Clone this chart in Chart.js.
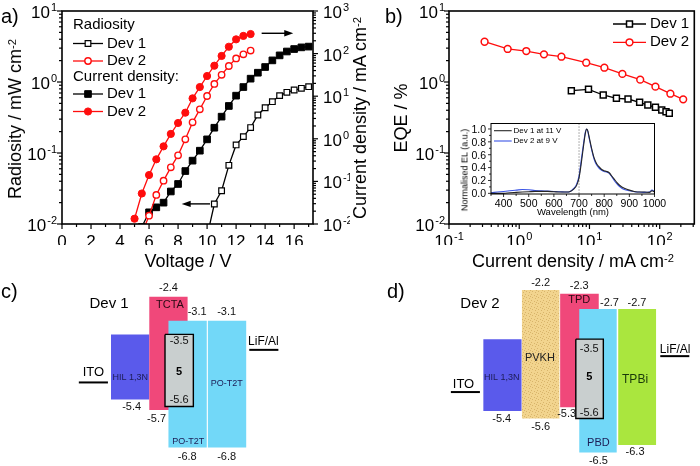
<!DOCTYPE html>
<html>
<head>
<meta charset="utf-8">
<script src="https://cdn.jsdelivr.net/npm/chart.js@4.4.1/dist/chart.umd.min.js"></script>
<style>
  html, body { margin:0; padding:0; background:#fff; }
  #fig { position:relative; width:700px; height:466px; overflow:hidden; background:#fff;
         font-family:"Liberation Sans", Arial, Helvetica, sans-serif; color:#000; }
  #fig canvas { position:absolute; }
  .lbl { position:absolute; white-space:nowrap; margin:0; padding:0; }
  .lbl sup { font-size:0.62em; position:relative; top:-0.45em; vertical-align:baseline; line-height:0; }
</style>
</head>
<body>
<div id="fig">
  <canvas id="cA" width="350" height="245" style="left:0;top:0"></canvas>
  <canvas id="cB" width="350" height="245" style="left:350px;top:0"></canvas>
  <canvas id="cIn" width="225" height="102" style="left:455px;top:118px"></canvas>
  <canvas id="cC" width="350" height="221" style="left:0;top:245px"></canvas>
  <canvas id="cD" width="350" height="221" style="left:350px;top:245px"></canvas>
</div>
<script>
// ---------------- DATA ----------------
// Panel a: radiosity (mW cm-2, left axis) and current density (mA cm-2, right axis) vs voltage (V)
const radVoltDev1 = [10, 10.5, 11, 11.5, 12, 12.5, 13, 13.5, 14, 14.5, 15, 15.5, 16, 16.5, 17];
const radiosityDev1 = [0.0067, 0.0191, 0.0294, 0.067, 0.130, 0.170, 0.228, 0.343, 0.434, 0.528, 0.643, 0.715, 0.771, 0.815, 0.859];
const radVoltDev2 = [5.5, 6, 6.5, 7, 7.5, 8, 8.5, 9, 9.5, 10, 10.5, 11, 11.5, 12, 12.5, 13];
const radiosityDev2 = [0.0073, 0.0131, 0.0257, 0.0408, 0.0628, 0.0927, 0.156, 0.270, 0.412, 0.635, 0.94, 1.26, 1.68, 2.15, 2.45, 2.77];
const curVoltDev1 = [5.5, 6, 6.5, 7, 7.5, 8, 8.5, 9, 9.5, 10, 10.5, 11, 11.5, 12, 12.5, 13, 13.5, 14, 14.5, 15, 15.5, 16, 16.5, 17];
const currentDev1 = [0.0085, 0.0188, 0.0246, 0.0317, 0.058, 0.087, 0.175, 0.307, 0.526, 0.97, 1.82, 3.31, 5.9, 10.3, 16.4, 25.8, 35.6, 48.4, 69.3, 90.8, 112, 128, 140, 146];
const curVoltDev2 = [5, 5.5, 6, 6.5, 7, 7.5, 8, 8.5, 9, 9.5, 10, 10.5, 11, 11.5, 12, 12.5, 13];
const currentDev2 = [0.0133, 0.052, 0.141, 0.33, 0.665, 1.30, 2.35, 4.1, 8.9, 16.4, 29.8, 52, 88, 145, 216, 260, 288];

// Panel b: EQE (%) vs current density (mA cm-2)
const eqeJDev1 = [5.52, 9.69, 15.7, 24.2, 35.4, 51.8, 67.8, 87, 107, 123, 137];
const eqeDev1 = [0.754, 0.789, 0.656, 0.589, 0.576, 0.518, 0.474, 0.44, 0.404, 0.382, 0.362];
const eqeJDev2 = [0.321, 0.684, 1.26, 2.25, 3.99, 8.99, 16.3, 29.4, 52.8, 87, 142, 216];
const eqeDev2 = [3.69, 2.92, 2.73, 2.45, 2.27, 1.87, 1.59, 1.30, 1.08, 0.86, 0.684, 0.57];

// Panel b inset: normalised EL spectra
const wavelength = [350, 375, 400, 425, 450, 475, 500, 525, 550, 575, 600, 625, 650, 665, 680, 690, 700, 710, 720, 725, 730, 735, 740, 750, 760, 770, 780, 790, 800, 810, 820, 830, 840, 850, 860, 870, 880, 900, 920, 940, 960, 980, 990, 1000];
const elDev1 = [0.00, 0.00, 0.00, 0.01, 0.015, 0.02, 0.025, 0.03, 0.03, 0.03, 0.025, 0.02, 0.02, 0.03, 0.07, 0.12, 0.24, 0.5, 0.8, 0.93, 1.0, 0.97, 0.88, 0.7, 0.55, 0.46, 0.41, 0.37, 0.35, 0.34, 0.32, 0.27, 0.22, 0.17, 0.13, 0.1, 0.08, 0.05, 0.03, 0.02, 0.02, 0.015, 0.04, 0.02];
const elDev2 = [0.01, 0.02, 0.03, 0.04, 0.05, 0.06, 0.055, 0.045, 0.04, 0.035, 0.03, 0.025, 0.02, 0.03, 0.08, 0.14, 0.27, 0.55, 0.83, 0.95, 1.0, 0.96, 0.86, 0.68, 0.53, 0.44, 0.39, 0.36, 0.34, 0.33, 0.31, 0.26, 0.2, 0.15, 0.11, 0.08, 0.06, 0.04, 0.025, 0.02, 0.015, 0.02, 0.05, 0.03];

// Tick values / labels
const voltTicks = [0, 2, 4, 6, 8, 10, 12, 14, 16];
const voltTickLabels = ['0', '2', '4', '6', '8', '10', '12', '14', '16'];
const voltMinor = [1, 3, 5, 7, 9, 11, 13, 15, 17];
const radTicks = [0.01, 0.1, 1, 10];
const radTickLabels = ['10^-2', '10^-1', '10^0', '10^1'];
const curTicks = [0.01, 0.1, 1, 10, 100, 1000];
const curTickLabels = ['10^-2', '10^-1', '10^0', '10^1', '10^2', '10^3'];
const jTicks = [0.1, 1, 10, 100];
const jTickLabels = ['10^-1', '10^0', '10^1', '10^2'];
const eqeTicks = [0.01, 0.1, 1, 10];
const eqeTickLabels = ['10^-2', '10^-1', '10^0', '10^1'];
const wlTicks = [400, 500, 600, 700, 800, 900, 1000];
const wlTickLabels = ['400', '500', '600', '700', '800', '900', '1000'];
const wlMinor = [350, 450, 550, 650, 750, 850, 950];
const elTicks = [0, 0.2, 0.4, 0.6, 0.8, 1.0];
const elTickLabels = ['0.0', '0.2', '0.4', '0.6', '0.8', '1.0'];
const elMinor = [0.1, 0.3, 0.5, 0.7, 0.9];

// Panel c: Dev 1 energy levels (eV)
const layersC = ['HIL 1,3N', 'TCTA', 'PO-T2T', 'PO-T2T', '5'];
const lumoC = [-3.5, -2.4, -3.1, -3.1, -3.5];
const homoC = [-5.4, -5.7, -6.8, -6.8, -5.6];
const electrodesC = [-4.9, -3.95];   // ITO, LiF/Al

// Panel d: Dev 2 energy levels (eV)
const layersD = ['HIL 1,3N', 'PVKH', 'TPD', 'PBD', 'TPBi', '5'];
const lumoD = [-3.5, -2.2, -2.3, -2.7, -2.7, -3.5];
const homoD = [-5.4, -5.6, -5.3, -6.5, -6.3, -5.6];
const electrodesD = [-4.9, -3.95];

// ---------------- LAYOUT / STYLE ----------------
const FONT = '"Liberation Sans", Arial, Helvetica, sans-serif';
Chart.defaults.font.family = FONT;
Chart.defaults.animation = false;
Chart.defaults.events = [];
Chart.defaults.plugins.legend.display = false;
Chart.defaults.plugins.tooltip.enabled = false;

const pts = (xs, ys) => xs.map((x, i) => ({x: x, y: ys[i]}));
function logMinors(d0, d1, maxV) {
  const r = [];
  for (let d = d0; d < d1; d++) for (let k = 2; k <= 9; k++) { const v = k * Math.pow(10, d); if (v <= maxV) r.push(v); }
  return r;
}

function drawTickLabel(ctx, ax, text, p, a) {
  const parts = String(text).split('^');
  const base = parts[0], exp = parts[1];
  const f = ax.font, sf = ax.supFont || f * 0.65;
  ctx.font = f + 'px ' + FONT;
  const wb = ctx.measureText(base).width;
  let ws = 0;
  if (exp !== undefined) { ctx.font = sf + 'px ' + FONT; ws = ctx.measureText(exp).width + 1; }
  const tot = wb + ws;
  let x0, yb;
  if (ax.side === 'bottom') { x0 = p - tot / 2; yb = a.bottom + ax.labelOffset; }
  else if (ax.side === 'left') { x0 = a.left - ax.labelOffset - tot; yb = p + ax.baseShift; }
  else { x0 = a.right + ax.labelOffset; yb = p + ax.baseShift; }
  ctx.textAlign = 'left'; ctx.textBaseline = 'alphabetic'; ctx.fillStyle = '#000';
  ctx.font = f + 'px ' + FONT; ctx.fillText(base, x0, yb);
  if (exp !== undefined) { ctx.font = sf + 'px ' + FONT; ctx.fillText(exp, x0 + wb + 1, yb - ax.supRaise); }
}

const decorPlugin = {
  id: 'decor',
  afterDraw(chart, args, o) {
    if (!o || !o.axes) return;
    const ctx = chart.ctx, a = chart.chartArea;
    ctx.save();
    ctx.strokeStyle = '#000';
    if (o.frame) { ctx.lineWidth = o.frameWidth; ctx.strokeRect(a.left, a.top, a.right - a.left, a.bottom - a.top); }
    for (const ax of o.axes) {
      const s = chart.scales[ax.id];
      ctx.lineWidth = ax.tickWidth;
      const tick = (v, len) => {
        const p = s.getPixelForValue(v);
        ctx.beginPath();
        if (ax.side === 'bottom') { ctx.moveTo(p, a.bottom); ctx.lineTo(p, a.bottom + len); }
        else if (ax.side === 'left') { ctx.moveTo(a.left, p); ctx.lineTo(a.left - len, p); }
        else { ctx.moveTo(a.right, p); ctx.lineTo(a.right + len, p); }
        ctx.stroke();
      };
      (ax.minor || []).forEach(v => tick(v, ax.minorLen));
      ax.major.forEach(v => tick(v, ax.majorLen));
      ax.major.forEach((v, i) => drawTickLabel(ctx, ax, ax.labels[i], s.getPixelForValue(v), a));
    }
    ctx.restore();
  }
};

function drawMarker(ctx, ds, x, y) {
  const r = ds.pointRadius;
  ctx.beginPath();
  if (ds.pointStyle === 'rect') { const s = r * Math.SQRT1_2; ctx.rect(x - s, y - s, 2 * s, 2 * s); }
  else ctx.arc(x, y, r, 0, Math.PI * 2);
  ctx.fillStyle = ds.pointBackgroundColor; ctx.fill();
  ctx.lineWidth = ds.pointBorderWidth; ctx.strokeStyle = ds.pointBorderColor; ctx.stroke();
}

const keyPlugin = {
  id: 'key',
  afterDraw(chart, args, o) {
    if (!o || !o.rows) return;
    const ctx = chart.ctx;
    ctx.save();
    ctx.textBaseline = 'middle'; ctx.textAlign = 'left';
    for (const r of o.rows) {
      ctx.font = o.size + 'px ' + FONT; ctx.fillStyle = '#000';
      if (r.ds === undefined) { ctx.fillText(r.text, o.x0, r.y); continue; }
      const ds = chart.data.datasets[r.ds];
      ctx.strokeStyle = ds.borderColor; ctx.lineWidth = ds.borderWidth;
      ctx.beginPath(); ctx.moveTo(o.x0, r.y); ctx.lineTo(o.x1, r.y); ctx.stroke();
      if (ds.pointRadius) drawMarker(ctx, ds, (o.x0 + o.x1) / 2, r.y);
      ctx.fillStyle = '#000';
      ctx.font = o.size + 'px ' + FONT;
      ctx.fillText(r.text, o.tx, r.y);
    }
    ctx.restore();
  }
};

const arrowPlugin = {
  id: 'arrows',
  afterDatasetsDraw(chart, args, o) {
    if (!o || !o.list) return;
    const ctx = chart.ctx, sx = chart.scales.x;
    ctx.save(); ctx.strokeStyle = '#000'; ctx.fillStyle = '#000'; ctx.lineWidth = 1.4;
    for (const ar of o.list) {
      const sy = chart.scales[ar.axis];
      const x0 = sx.getPixelForValue(ar.from), x1 = sx.getPixelForValue(ar.to), y = sy.getPixelForValue(ar.at);
      const dir = Math.sign(x1 - x0);
      ctx.beginPath(); ctx.moveTo(x0, y); ctx.lineTo(x1 - dir * 6, y); ctx.stroke();
      ctx.beginPath(); ctx.moveTo(x1, y); ctx.lineTo(x1 - dir * 9, y - 3.2); ctx.lineTo(x1 - dir * 9, y + 3.2); ctx.closePath(); ctx.fill();
    }
    ctx.restore();
  }
};

const whiteBg = { id: 'whiteBg', beforeDraw(chart) { const c = chart.ctx; c.save(); c.fillStyle = '#fff'; c.fillRect(0, 0, chart.chartArea.right + 22, chart.height); c.restore(); } };

const RED = '#ff0d0d';
const majorAxis = (id, side, major, labels, extra) => Object.assign({
  id: id, side: side, major: major, labels: labels, font: 17, supFont: 11, supRaise: 7,
  majorLen: 5, minorLen: 3, tickWidth: 1.2, labelOffset: 5, baseShift: 7
}, extra);
const hiddenAxis = (extra) => Object.assign({ grid: {display: false}, border: {display: false}, ticks: {display: false} }, extra);

// ---------------- PANEL A ----------------
new Chart(document.getElementById('cA'), {
  type: 'line',
  data: { datasets: [
    { data: pts(radVoltDev1, radiosityDev1), yAxisID: 'yL', borderColor: '#000', borderWidth: 1.3,
      pointStyle: 'rect', pointRadius: 4, pointBorderWidth: 1.2, pointBackgroundColor: '#fff', pointBorderColor: '#000' },
    { data: pts(radVoltDev2, radiosityDev2), yAxisID: 'yL', borderColor: RED, borderWidth: 1.3,
      pointStyle: 'circle', pointRadius: 3.2, pointBorderWidth: 1.4, pointBackgroundColor: '#fff', pointBorderColor: RED },
    { data: pts(curVoltDev1, currentDev1), yAxisID: 'yR', borderColor: '#000', borderWidth: 1.3,
      pointStyle: 'rect', pointRadius: 4.7, pointBorderWidth: 1, pointBackgroundColor: '#000', pointBorderColor: '#000' },
    { data: pts(curVoltDev2, currentDev2), yAxisID: 'yR', borderColor: RED, borderWidth: 1.3,
      pointStyle: 'circle', pointRadius: 3.6, pointBorderWidth: 1, pointBackgroundColor: RED, pointBorderColor: RED }
  ]},
  options: {
    responsive: false,
    layout: { padding: { top: 11, left: 0, right: 0, bottom: 0 } },
    scales: {
      x: hiddenAxis({ type: 'linear', min: 0, max: 17.3, afterFit(s) { s.height = 21; } }),
      yL: hiddenAxis({ type: 'logarithmic', position: 'left', min: 0.01, max: 10, afterFit(s) { s.width = 62; } }),
      yR: hiddenAxis({ type: 'logarithmic', position: 'right', min: 0.01, max: 1000, afterFit(s) { s.width = 37; } })
    },
    plugins: {
      decor: { frame: true, frameWidth: 1.6, axes: [
        majorAxis('x', 'bottom', voltTicks, voltTickLabels, { minor: voltMinor, labelOffset: 23, font: 17 }),
        majorAxis('yL', 'left', radTicks, radTickLabels, { minor: logMinors(-2, 1, 10) }),
        majorAxis('yR', 'right', curTicks, curTickLabels, { minor: logMinors(-2, 3, 1000), labelOffset: 10 })
      ]},
      key: { x0: 73, x1: 103, tx: 107, size: 15, rows: [
        { text: 'Radiosity', y: 25 },
        { text: 'Dev 1', y: 43.5, ds: 0 },
        { text: 'Dev 2', y: 61, ds: 1 },
        { text: 'Current density:', y: 77 },
        { text: 'Dev 1', y: 94, ds: 2 },
        { text: 'Dev 2', y: 111.5, ds: 3 }
      ]},
      arrows: { list: [
        { axis: 'yR', from: 13.76, to: 15.94, at: 300 },
        { axis: 'yL', from: 10.2, to: 8.25, at: 0.0192 }
      ]}
    }
  },
  plugins: [decorPlugin, keyPlugin, arrowPlugin]
});

// ---------------- PANEL B ----------------
new Chart(document.getElementById('cB'), {
  type: 'line',
  data: { datasets: [
    { data: pts(eqeJDev1, eqeDev1), borderColor: '#000', borderWidth: 1.3,
      pointStyle: 'rect', pointRadius: 4.2, pointBorderWidth: 1.5, pointBackgroundColor: '#fff', pointBorderColor: '#000' },
    { data: pts(eqeJDev2, eqeDev2), borderColor: RED, borderWidth: 1.3,
      pointStyle: 'circle', pointRadius: 3.4, pointBorderWidth: 1.5, pointBackgroundColor: '#fff', pointBorderColor: RED }
  ]},
  options: {
    responsive: false,
    layout: { padding: { top: 11, left: 0, right: 3, bottom: 0 } },
    scales: {
      x: hiddenAxis({ type: 'logarithmic', min: 0.1, max: 311, afterFit(s) { s.height = 21; } }),
      y: hiddenAxis({ type: 'logarithmic', position: 'left', min: 0.01, max: 10, afterFit(s) { s.width = 99; } })
    },
    plugins: {
      decor: { frame: true, frameWidth: 1.6, axes: [
        majorAxis('x', 'bottom', jTicks, jTickLabels, { minor: logMinors(-1, 3, 311), labelOffset: 23 }),
        majorAxis('y', 'left', eqeTicks, eqeTickLabels, { minor: logMinors(-2, 1, 10), labelOffset: 4 })
      ]},
      key: { x0: 263, x1: 296, tx: 300, size: 15, rows: [
        { text: 'Dev 1', y: 24, ds: 0 },
        { text: 'Dev 2', y: 42.3, ds: 1 }
      ]}
    }
  },
  plugins: [decorPlugin, keyPlugin]
});

// ---------------- INSET ----------------
new Chart(document.getElementById('cIn'), {
  type: 'line',
  data: { datasets: [
    { data: pts(wavelength, elDev1), borderColor: '#262626', borderWidth: 1.1, pointRadius: 0, cubicInterpolationMode: 'monotone' },
    { data: pts(wavelength, elDev2), borderColor: '#3b55e6', borderWidth: 1.1, pointRadius: 0, cubicInterpolationMode: 'monotone' },
    { data: [{x: 700, y: -0.1}, {x: 700, y: 1.2}], borderColor: '#7a7a7a', borderWidth: 0.8, borderDash: [1.5, 1.5], pointRadius: 0 }
  ]},
  options: {
    responsive: false,
    layout: { padding: { top: 5.5, left: 0, right: 25.5, bottom: 0 } },
    scales: {
      x: hiddenAxis({ type: 'linear', min: 350, max: 1000, afterFit(s) { s.height = 26; } }),
      y: hiddenAxis({ type: 'linear', min: -0.01, max: 1.085, afterFit(s) { s.width = 36; } })
    },
    plugins: {
      decor: { frame: true, frameWidth: 1, axes: [
        majorAxis('x', 'bottom', wlTicks, wlTickLabels, { minor: wlMinor, labelOffset: 13, font: 10.5, majorLen: 3, minorLen: 2, tickWidth: 0.8 }),
        majorAxis('y', 'left', elTicks, elTickLabels, { minor: elMinor, labelOffset: 5, baseShift: 3.8, font: 10.5, majorLen: 3, minorLen: 2, tickWidth: 0.8 })
      ]},
      key: { x0: 39, x1: 56.7, tx: 58.5, size: 8, rows: [
        { text: 'Dev 1 at 11 V', y: 12.7, ds: 0 },
        { text: 'Dev 2 at 9 V', y: 23, ds: 1 }
      ]}
    }
  },
  plugins: [whiteBg, decorPlugin, keyPlugin]
});

// ---------------- ENERGY DIAGRAMS ----------------
function stipple(base, dot) {
  const p = document.createElement('canvas'); p.width = 6; p.height = 6;
  const g = p.getContext('2d');
  g.fillStyle = base; g.fillRect(0, 0, 6, 6);
  g.fillStyle = dot;
  [[1, 1], [4, 2], [2, 4], [5, 5], [0, 3]].forEach(q => g.fillRect(q[0], q[1], 1, 1));
  return g.createPattern(p, 'repeat');
}

const energyLabels = {
  id: 'energyLabels',
  afterDatasetsDraw(chart, args, o) {
    if (!o || !o.items) return;
    const ctx = chart.ctx, sx = chart.scales.x, sy = chart.scales.y;
    ctx.save(); ctx.textAlign = 'center'; ctx.textBaseline = 'middle';
    for (const L of o.items) {
      ctx.font = (L.bold ? 'bold ' : '') + L.size + 'px ' + FONT;
      ctx.fillStyle = L.color || '#111';
      ctx.fillText(L.text, sx.getPixelForValue(L.u), sy.getPixelForValue(L.e));
    }
    ctx.restore();
  }
};

function energyChart(id, cfg) {
  const datasets = [];
  cfg.layers.forEach((name, i) => {
    const u0 = cfg.slots[i][0], u1 = cfg.slots[i][1], top = cfg.lumo[i], bot = cfg.homo[i];
    datasets.push({
      label: name,
      data: [{x: u0, y: top}, {x: u1, y: top}, {x: u1, y: bot}, {x: u0, y: bot}, {x: u0, y: top}],
      showLine: true, fill: 'shape', backgroundColor: cfg.fills[i],
      borderColor: cfg.edges[i], borderWidth: cfg.edgeW[i], pointRadius: 0, tension: 0,
      order: -cfg.paint[i]
    });
  });
  cfg.electrodeSlots.forEach((sl, i) => {
    datasets.push({
      data: [{x: sl[0], y: cfg.electrodes[i]}, {x: sl[1], y: cfg.electrodes[i]}],
      showLine: true, fill: false, borderColor: '#000', borderWidth: 2, pointRadius: 0, order: -20
    });
  });
  new Chart(document.getElementById(id), {
    type: 'scatter',
    data: { datasets: datasets },
    options: {
      responsive: false,
      scales: {
        x: { type: 'linear', display: false, min: cfg.xr[0], max: cfg.xr[1] },
        y: { type: 'linear', display: false, min: cfg.yr[0], max: cfg.yr[1] }
      },
      plugins: { energyLabels: { items: cfg.labels } }
    },
    plugins: [energyLabels]
  });
}

const BLUE = '#5a5aeb', PINK = '#f0487a', CYAN = '#72d8f8', GREY = '#c9cfcf', GREEN = '#aae63e';
const fmt = v => v.toFixed(1);
const NAVY = '#1c1c55';

energyChart('cC', {
  layers: layersC, lumo: lumoC, homo: homoC,
  slots: [[0, 1], [1, 2], [1.5, 2.5], [2.53, 3.53], [1.41, 2.15]],
  paint: [0, 1, 2, 3, 4],
  fills: [BLUE, PINK, CYAN, CYAN, GREY],
  edges: ['rgba(0,0,0,0)', 'rgba(0,0,0,0)', 'rgba(0,0,0,0)', 'rgba(0,0,0,0)', '#000'],
  edgeW: [0, 0, 0, 0, 1.4],
  electrodes: electrodesC, electrodeSlots: [[-0.84, -0.08], [3.61, 4.37]],
  xr: [-2.898, 6.24], yr: [-7.336, -0.893],
  labels: [
    { text: 'Dev 1', u: -0.05, e: -2.61, size: 15, color: '#000' },
    { text: 'ITO', u: -0.46, e: -4.62, size: 13, color: '#000' },
    { text: 'LiF/Al', u: 3.98, e: -3.71, size: 12, color: '#000' },
    { text: layersC[0], u: 0.5, e: -4.76, size: 9, color: NAVY },
    { text: fmt(homoC[0]), u: 0.54, e: -5.61, size: 11 },
    { text: layersC[1], u: 1.54, e: -2.64, size: 11, color: '#2a0a14' },
    { text: fmt(lumoC[1]), u: 1.5, e: -2.16, size: 11 },
    { text: fmt(homoC[1]), u: 1.19, e: -5.97, size: 11 },
    { text: fmt(lumoC[2]), u: 2.25, e: -2.84, size: 11 },
    { text: fmt(homoC[2]), u: 1.99, e: -7.06, size: 11 },
    { text: layersC[2], u: 2.02, e: -6.63, size: 9, color: NAVY },
    { text: fmt(lumoC[3]), u: 3.02, e: -2.84, size: 11 },
    { text: fmt(homoC[3]), u: 3.02, e: -7.06, size: 11 },
    { text: layersC[3], u: 3.02, e: -4.92, size: 9, color: NAVY },
    { text: fmt(lumoC[4]), u: 1.78, e: -3.68, size: 11 },
    { text: layersC[4], u: 1.78, e: -4.59, size: 11, bold: true, color: '#000' },
    { text: fmt(homoC[4]), u: 1.78, e: -5.41, size: 11 }
  ]
});

energyChart('cD', {
  layers: layersD, lumo: lumoD, homo: homoD,
  slots: [[0, 1], [1.01, 1.99], [2.01, 3.02], [2.51, 3.49], [3.53, 4.52], [2.42, 3.14]],
  paint: [0, 1, 2, 3, 4, 5],
  fills: [BLUE, stipple('#f2d48e', '#d8b46a'), PINK, CYAN, GREEN, GREY],
  edges: ['rgba(0,0,0,0)', 'rgba(0,0,0,0)', 'rgba(0,0,0,0)', 'rgba(0,0,0,0)', 'rgba(0,0,0,0)', '#000'],
  edgeW: [0, 0, 0, 0, 0, 1.4],
  electrodes: electrodesD, electrodeSlots: [[-0.85, -0.09], [4.63, 5.39]],
  xr: [-3.49, 5.67], yr: [-6.856, -1.01],
  labels: [
    { text: 'Dev 2', u: -0.09, e: -2.57, size: 15, color: '#000' },
    { text: 'ITO', u: -0.52, e: -4.69, size: 13, color: '#000' },
    { text: 'LiF/Al', u: 5.02, e: -3.79, size: 12, color: '#000' },
    { text: layersD[0], u: 0.48, e: -4.51, size: 9, color: NAVY },
    { text: fmt(homoD[0]), u: 0.48, e: -5.62, size: 11 },
    { text: layersD[1], u: 1.48, e: -4.01, size: 11, color: '#222' },
    { text: fmt(lumoD[1]), u: 1.5, e: -2.02, size: 11 },
    { text: fmt(homoD[1]), u: 1.5, e: -5.82, size: 11 },
    { text: layersD[2], u: 2.51, e: -2.46, size: 11, color: '#2a0a14' },
    { text: fmt(lumoD[2]), u: 2.51, e: -2.09, size: 11 },
    { text: fmt(homoD[2]), u: 2.18, e: -5.48, size: 11 },
    { text: layersD[3], u: 3.01, e: -6.24, size: 11, color: NAVY },
    { text: fmt(lumoD[3]), u: 3.3, e: -2.55, size: 11 },
    { text: fmt(homoD[3]), u: 3.01, e: -6.72, size: 11 },
    { text: layersD[4], u: 3.97, e: -4.58, size: 12, color: '#1a3a0a' },
    { text: fmt(lumoD[4]), u: 4.02, e: -2.55, size: 11 },
    { text: fmt(homoD[4]), u: 3.97, e: -6.48, size: 11 },
    { text: fmt(lumoD[5]), u: 2.77, e: -3.76, size: 11 },
    { text: layersD[5], u: 2.77, e: -4.51, size: 11, bold: true, color: '#000' },
    { text: fmt(homoD[5]), u: 2.77, e: -5.45, size: 11 }
  ]
});

// ---------------- TEXT (titles, panel letters) ----------------
const fig = document.getElementById('fig');
function addLabel(html, opt) {
  const d = document.createElement('div');
  d.className = 'lbl';
  d.innerHTML = html;
  const fs = opt.size;
  d.style.fontSize = fs + 'px';
  d.style.lineHeight = fs + 'px';
  if (opt.rotate) {
    d.style.left = opt.cx + 'px'; d.style.top = opt.cy + 'px';
    d.style.transform = 'translate(-50%,-50%) rotate(-90deg)';
  } else {
    d.style.top = (opt.baseline - 0.8465 * fs) + 'px';
    if (opt.cx !== undefined) { d.style.left = opt.cx + 'px'; d.style.transform = 'translateX(-50%)'; }
    else d.style.left = opt.left + 'px';
  }
  fig.appendChild(d);
}
addLabel('a)', { size: 20, left: 1, baseline: 23 });
addLabel('b)', { size: 20, left: 385, baseline: 23 });
addLabel('c)', { size: 20, left: 1, baseline: 298 });
addLabel('d)', { size: 20, left: 387, baseline: 298 });
addLabel('Voltage / V', { size: 18, cx: 188, baseline: 267 });
addLabel('Current density / mA cm<sup>-2</sup>', { size: 18, cx: 573, baseline: 267 });
addLabel('Radiosity / mW cm<sup>-2</sup>', { size: 18, rotate: true, cx: 15, cy: 119 });
addLabel('Current density / mA cm<sup>-2</sup>', { size: 18, rotate: true, cx: 360, cy: 118 });
addLabel('EQE / %', { size: 18, rotate: true, cx: 401, cy: 118 });
addLabel('Normalised EL (a.u.)', { size: 9, rotate: true, cx: 465, cy: 170 });
addLabel('Wavelength (nm)', { size: 9.5, cx: 573, baseline: 215 });
</script>
</body>
</html>
